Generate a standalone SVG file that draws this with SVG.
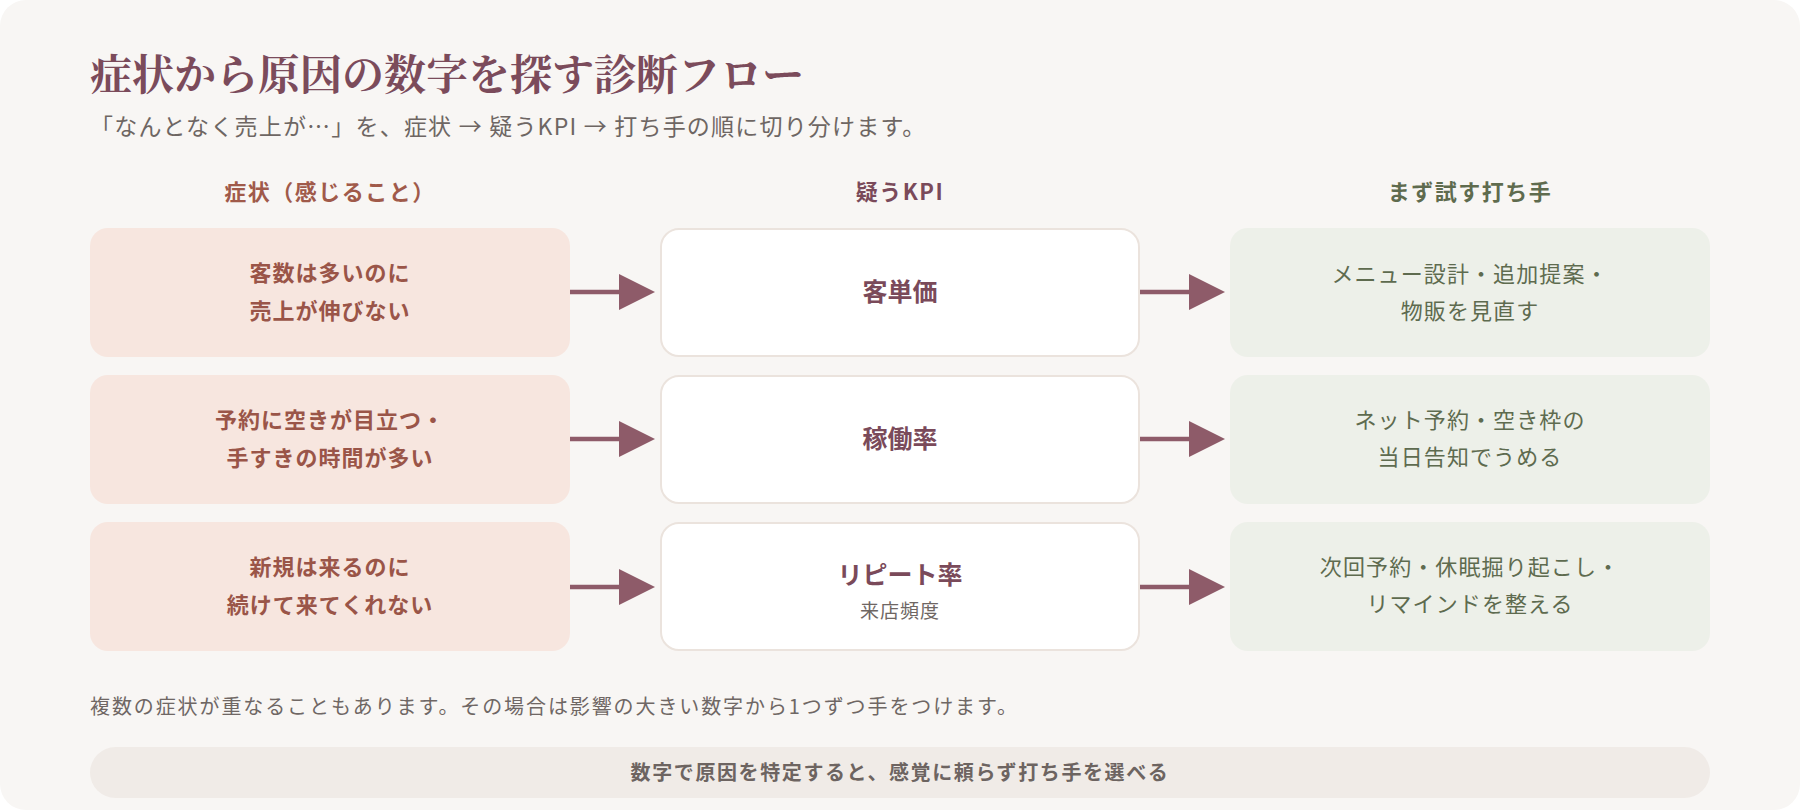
<svg xmlns="http://www.w3.org/2000/svg" width="1800" height="810" viewBox="0 0 1800 810">
<defs>
<style>
.jp{font-family:"Noto Sans CJK JP","Noto Sans",sans-serif;}
.title{font-family:"Noto Serif CJK JP","Noto Sans CJK JP",serif;font-size:42px;font-weight:700;fill:#7b4b5b;}
.sub{font-size:23px;fill:#6e6663;letter-spacing:1.2px;}
.hdr{font-size:22px;font-weight:700;text-anchor:middle;letter-spacing:1.5px;}
.sym rect{fill:#f7e6df;}
.sym text{font-size:22px;font-weight:700;fill:#9a5548;text-anchor:middle;letter-spacing:1px;}
.kpi rect{fill:#ffffff;stroke:#ebe3dd;stroke-width:2;}
.kpi text.m{font-size:25px;font-weight:700;fill:#7a4a5a;text-anchor:middle;}
.kpi text.s{font-size:19px;fill:#6e6663;text-anchor:middle;letter-spacing:1px;}
.act rect{fill:#edf0e9;}
.act text{font-size:22px;fill:#5e6b4f;text-anchor:middle;letter-spacing:1.1px;}
.conn line{stroke:#8e5b69;stroke-width:4.5;}
.conn polygon{fill:#8e5b69;}
.note{font-size:20px;fill:#6f6764;letter-spacing:1.9px;}
.bar rect{fill:#f0ebe7;}
.bar text{font-size:20px;font-weight:700;fill:#6d6461;text-anchor:middle;letter-spacing:1.6px;}
</style>
</defs>
<rect x="0" y="0" width="1800" height="810" fill="#ffffff"/>
<rect x="0" y="0" width="1800" height="810" rx="26" fill="#f8f6f4"/>

<text class="title" x="90" y="90">症状から原因の数字を探す診断フロー</text>
<text class="jp sub" x="90" y="135">「なんとなく売上が…」を、症状 → 疑うKPI → 打ち手の順に切り分けます。</text>

<g id="headers" class="jp">
<text class="hdr" x="330" y="200" fill="#a05a4a">症状（感じること）</text>
<text class="hdr" x="900" y="200" fill="#7a4a5a">疑うKPI</text>
<text class="hdr" x="1470" y="200" fill="#5f6b4e">まず試す打ち手</text>
</g>

<g id="sym1" class="sym jp"><rect x="90" y="228" width="480" height="129" rx="18"/><text x="330" y="281">客数は多いのに</text><text x="330" y="319">売上が伸びない</text></g>
<g id="sym2" class="sym jp"><rect x="90" y="375" width="480" height="129" rx="18"/><text x="330" y="428">予約に空きが目立つ・</text><text x="330" y="466">手すきの時間が多い</text></g>
<g id="sym3" class="sym jp"><rect x="90" y="522" width="480" height="129" rx="18"/><text x="330" y="575">新規は来るのに</text><text x="330" y="613">続けて来てくれない</text></g>

<g id="kpi1" class="kpi jp"><rect x="661" y="229" width="478" height="127" rx="18"/><text class="m" x="900" y="301">客単価</text></g>
<g id="kpi2" class="kpi jp"><rect x="661" y="376" width="478" height="127" rx="18"/><text class="m" x="900" y="448">稼働率</text></g>
<g id="kpi3" class="kpi jp"><rect x="661" y="523" width="478" height="127" rx="18"/><text class="m" x="900" y="584">リピート率</text><text class="s" x="900" y="618">来店頻度</text></g>

<g id="act1" class="act jp"><rect x="1230" y="228" width="480" height="129" rx="18"/><text x="1470" y="282">メニュー設計・追加提案・</text><text x="1470" y="319">物販を見直す</text></g>
<g id="act2" class="act jp"><rect x="1230" y="375" width="480" height="129" rx="18"/><text x="1470" y="428">ネット予約・空き枠の</text><text x="1470" y="465">当日告知でうめる</text></g>
<g id="act3" class="act jp"><rect x="1230" y="522" width="480" height="129" rx="18"/><text x="1470" y="575">次回予約・休眠掘り起こし・</text><text x="1470" y="612">リマインドを整える</text></g>

<g id="connectors" class="conn">
<line x1="570" y1="292" x2="622" y2="292"/><polygon points="619,274 655,292 619,310"/>
<line x1="1140" y1="292" x2="1192" y2="292"/><polygon points="1189,274 1225,292 1189,310"/>
<line x1="570" y1="439" x2="622" y2="439"/><polygon points="619,421 655,439 619,457"/>
<line x1="1140" y1="439" x2="1192" y2="439"/><polygon points="1189,421 1225,439 1189,457"/>
<line x1="570" y1="587" x2="622" y2="587"/><polygon points="619,569 655,587 619,605"/>
<line x1="1140" y1="587" x2="1192" y2="587"/><polygon points="1189,569 1225,587 1189,605"/>
</g>

<text class="jp note" x="90" y="714">複数の症状が重なることもあります。その場合は影響の大きい数字から1つずつ手をつけます。</text>

<g id="summary" class="bar jp"><rect x="90" y="747" width="1620" height="51" rx="25.5"/><text x="900" y="780">数字で原因を特定すると、感覚に頼らず打ち手を選べる</text></g>
</svg>
